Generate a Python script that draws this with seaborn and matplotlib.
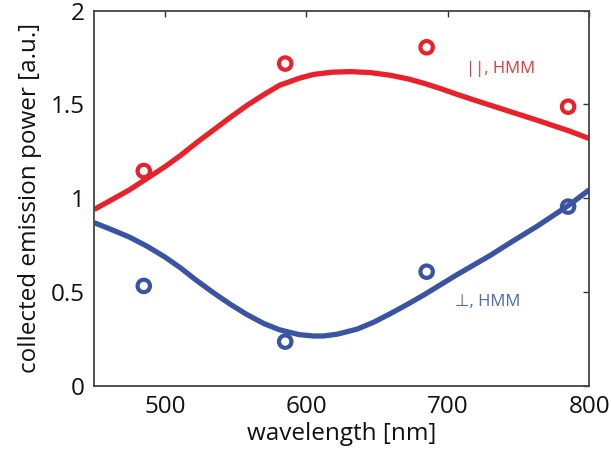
import numpy as np
import pandas as pd
import matplotlib
matplotlib.use("Agg")
import matplotlib.pyplot as plt
import seaborn as sns

# measured points
wl_points = [485, 585, 685, 785]
par_points = [1.145, 1.718, 1.805, 1.488]
perp_points = [0.532, 0.235, 0.608, 0.955]

# model curves
wl_par = [450, 462, 475, 487, 500, 511, 522, 534, 546, 558, 570, 581, 595,
          605, 618, 631, 645, 659, 672, 683, 695, 706, 718, 730, 744, 763, 786, 800]
par_curve = [0.94, 0.99, 1.045, 1.104, 1.168, 1.228, 1.294, 1.362, 1.43, 1.495,
             1.553, 1.602, 1.640, 1.660, 1.672, 1.675, 1.670, 1.656, 1.636,
             1.613, 1.584, 1.555, 1.525, 1.496, 1.462, 1.416, 1.358, 1.318]
wl_perp = [450, 462, 475, 487, 500, 511, 522, 534, 546, 558, 570, 581, 595,
           605, 612, 622, 636, 648, 659, 671, 683, 706, 730, 744, 763, 786, 800]
perp_curve = [0.869, 0.833, 0.792, 0.745, 0.686, 0.628, 0.563, 0.497, 0.435, 0.379,
              0.331, 0.298, 0.272, 0.265, 0.265, 0.275, 0.302, 0.34, 0.383,
              0.432, 0.484, 0.59, 0.695, 0.762, 0.85, 0.965, 1.045]

x_ticks = [500, 600, 700, 800]
y_ticks = [0, 0.5, 1, 1.5, 2]
y_ticklabels = ["0", "0.5", "1", "1.5", "2"]
label_par = "||, HMM"
label_perp = "\u22a5, HMM"

RED = "#e8212a"
BLUE = "#3a54a4"

sns.set_style("white")
plt.rcParams['font.family'] = ['Open Sans', 'DejaVu Sans']

fig = plt.figure(figsize=(6.11, 4.63), dpi=100)
ax = fig.add_axes([0.1543, 0.167, 0.8102, 0.8099])

sns.lineplot(x=wl_par, y=par_curve, color=RED, lw=3.8, ax=ax, sort=False)
sns.lineplot(x=wl_perp, y=perp_curve, color=BLUE, lw=3.8, ax=ax, sort=False)
for ln in ax.lines:
    ln.set_solid_joinstyle('round')
    ln.set_solid_capstyle('butt')
sns.scatterplot(x=wl_points, y=par_points, marker='o', s=80, facecolor='none',
                edgecolor=RED, linewidth=3, ax=ax, zorder=5)
sns.scatterplot(x=wl_points, y=perp_points, marker='o', s=80, facecolor='none',
                edgecolor=BLUE, linewidth=3, ax=ax, zorder=5)

ax.set_xlim(450, 800)
ax.set_ylim(0, 2)
ax.set_xticks(x_ticks)
ax.set_yticks(y_ticks)
ax.set_yticklabels(y_ticklabels)
ax.tick_params(direction='in', length=4, width=1, top=True, right=True,
               labelsize=17.5, colors='#333333', labelcolor='#111111', pad=7)
for s in ax.spines.values():
    s.set_color('#444444')
    s.set_linewidth(1.3)

ax.set_xlabel("wavelength [nm]", fontsize=17.5, color='#111111', labelpad=2)
ax.set_ylabel("collected emission power [a.u.]", fontsize=17.5, color='#111111', labelpad=6)

ax.text(713, 1.69, label_par, color="#e8353a", fontsize=12, va='center', ha='left')
ax.text(705, 0.445, label_perp, color="#4a6ab4", fontsize=12, va='center', ha='left')

fig.savefig("out.png", dpi=100)
